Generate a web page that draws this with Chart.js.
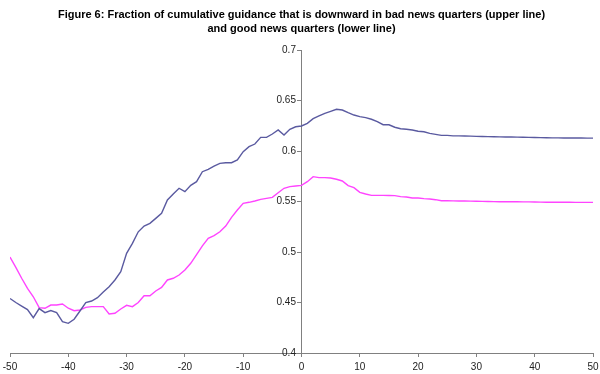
<!DOCTYPE html>
<html>
<head>
<meta charset="utf-8">
<script src="https://cdn.jsdelivr.net/npm/chart.js@4.4.0/dist/chart.umd.min.js"></script>
<style>
  html, body { margin: 0; padding: 0; background: #fff; }
  #wrap { width: 600px; height: 374px; }
</style>
</head>
<body>
<div id="wrap"><canvas id="grafico"></canvas></div>
<script>
// quarters relative to event, -50 .. 50
const quarters = [];
for (let q = -50; q <= 50; q++) quarters.push(q);

// bad news quarters (upper line)
const badNews = [
  0.454, 0.450, 0.4465, 0.443, 0.435, 0.444, 0.440, 0.442, 0.440, 0.431,
  0.4294, 0.4334, 0.4416, 0.450, 0.4515, 0.4548, 0.4604, 0.4657, 0.4723, 0.4805,
  0.4987, 0.5086, 0.520, 0.5257, 0.5284, 0.5333, 0.5383, 0.5515, 0.5574, 0.5631,
  0.5597, 0.566, 0.5696, 0.5795, 0.5819, 0.5851, 0.5878, 0.5884, 0.5884, 0.5911,
  0.5993, 0.6043, 0.6069, 0.6135, 0.6135, 0.6168, 0.6208, 0.6158, 0.6215, 0.624,
  0.6248, 0.6274, 0.632, 0.6347, 0.6373, 0.6393, 0.6413, 0.6406, 0.638, 0.6356,
  0.634, 0.633, 0.6314, 0.629, 0.626, 0.626, 0.6235, 0.622, 0.6215, 0.6208,
  0.6195, 0.619, 0.6175, 0.6165, 0.6155, 0.6155, 0.615, 0.615, 0.6149, 0.6147,
  0.6145, 0.6143, 0.6142, 0.6141, 0.614, 0.6139, 0.6138, 0.6137, 0.6136, 0.6135,
  0.6134, 0.6132, 0.6131, 0.613, 0.613, 0.6129, 0.6129, 0.6128, 0.6128, 0.6127,
  0.6127
];

// good news quarters (lower line)
const goodNews = [
  0.495, 0.4848, 0.474, 0.464, 0.4557, 0.4449, 0.4443, 0.4475, 0.4475, 0.4485,
  0.4443, 0.4419, 0.4426, 0.4452, 0.4459, 0.4459, 0.4459, 0.4386, 0.4393, 0.4436,
  0.4472, 0.4459, 0.450, 0.4567, 0.4567, 0.4614, 0.465, 0.4723, 0.474, 0.4772,
  0.4822, 0.4888, 0.4975, 0.506, 0.5136, 0.5162, 0.520, 0.5257, 0.5343, 0.5416,
  0.5482, 0.5492, 0.5505, 0.5521, 0.5531, 0.5541, 0.5587, 0.5631, 0.5647, 0.5653,
  0.566, 0.5696, 0.5746, 0.5736, 0.5736, 0.5733, 0.572, 0.5703, 0.5657, 0.5637,
  0.5591, 0.5574, 0.5561, 0.5561, 0.5561, 0.556, 0.5558, 0.5548, 0.5545, 0.5535,
  0.5535, 0.5528, 0.5525, 0.5518, 0.5508, 0.5507, 0.5506, 0.5505, 0.5505, 0.5504,
  0.5503, 0.5501, 0.55, 0.5499, 0.5498, 0.5498, 0.5497, 0.5497, 0.5496, 0.5496,
  0.5495, 0.5494, 0.5493, 0.5493, 0.5492, 0.5492, 0.5492, 0.5491, 0.5491, 0.5491,
  0.5491
];

const xTicks = [-50, -40, -30, -20, -10, 0, 10, 20, 30, 40, 50];
const yTicks = [0.4, 0.45, 0.5, 0.55, 0.6, 0.65, 0.7];

const titulo = [
  'Figure 6: Fraction of cumulative guidance that is downward in bad news quarters (upper line)',
  'and good news quarters (lower line)'
];

const toPoints = (vals) => quarters.map((q, i) => ({ x: q, y: vals[i] }));

const eixoCor = '#808080';
const tickFont = { family: 'Liberation Sans, Arial', size: 10 };

const ctx = document.getElementById('grafico').getContext('2d');
new Chart(ctx, {
    type: 'line',
    data: {
        datasets: [{
            label: 'Bad news quarters',
            data: toPoints(badNews),
            borderColor: '#5a5aa0',
            borderWidth: 1.4,
            pointRadius: 0,
            tension: 0
        }, {
            label: 'Good news quarters',
            data: toPoints(goodNews),
            borderColor: '#ff44ff',
            borderWidth: 1.4,
            pointRadius: 0,
            tension: 0
        }]
    },
    options: {
        responsive: true,
        maintainAspectRatio: false,
        animation: false,
        layout: {
            padding: { left: 10, right: 7, top: 0.4, bottom: -3 }
        },
        plugins: {
            legend: { display: false },
            tooltip: { enabled: false },
            title: {
                display: true,
                text: titulo,
                color: '#000',
                font: { family: 'Liberation Sans, Arial', size: 11, weight: 'bold', lineHeight: 1.3 },
                padding: { top: 7, bottom: 14 }
            }
        },
        scales: {
            x: {
                type: 'linear',
                min: -50,
                max: 50,
                afterBuildTicks: (scale) => {
                    scale.ticks = xTicks.map(v => ({ value: v }));
                },
                // let the end labels hang over the plot edges, like the original
                afterFit: (scale) => {
                    scale.paddingLeft = 0;
                    scale.paddingRight = 0;
                },
                ticks: {
                    color: '#222',
                    font: tickFont,
                    padding: 4,
                    maxRotation: 0,
                    autoSkip: false
                },
                grid: {
                    display: true,
                    drawOnChartArea: false,
                    drawTicks: true,
                    tickLength: 4,
                    color: eixoCor
                },
                border: { display: true, color: eixoCor, width: 1 }
            },
            y: {
                type: 'linear',
                position: { x: 0 },
                min: 0.4,
                max: 0.7,
                afterBuildTicks: (scale) => {
                    scale.ticks = yTicks.map(v => ({ value: v }));
                },
                ticks: {
                    color: '#222',
                    font: tickFont,
                    // label sits right-aligned on the axis, pad with spaces to clear the tick mark
                    callback: (v) => String(+v.toFixed(2)) + '  '
                },
                grid: {
                    display: true,
                    drawOnChartArea: false,
                    drawTicks: true,
                    tickLength: 4,
                    color: eixoCor
                },
                border: { display: true, color: eixoCor, width: 1 }
            }
        }
    }
});
</script>
</body>
</html>
